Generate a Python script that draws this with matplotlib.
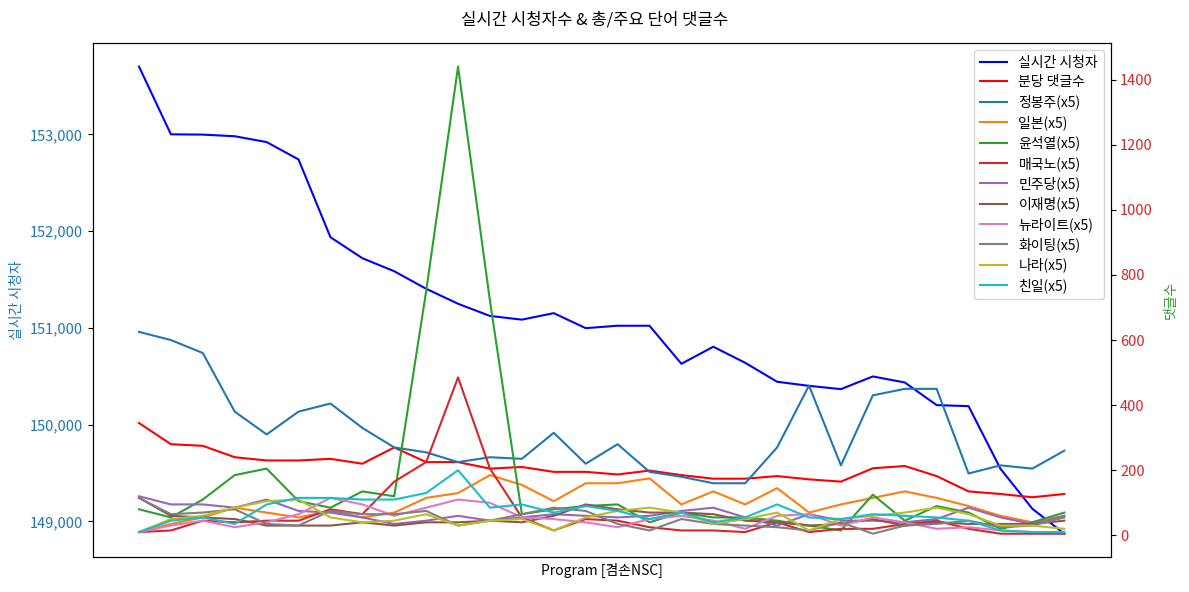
import matplotlib
matplotlib.use('Agg')
import matplotlib.pyplot as plt

plt.rcParams['font.family'] = ['Noto Sans CJK KR', 'DejaVu Sans']

# 실시간 시청자 (왼쪽 축)
viewers = [153700, 153000, 152997, 152980, 152920, 152740, 151937, 151720, 151585, 151404,
           151249, 151123, 151085, 151152, 150997, 151022, 151022, 150629, 150805, 150639,
           150443, 150401, 150367, 150498, 150436, 150202, 150191, 149544, 149131, 148873]

# 분당 댓글수 (오른쪽 축)
comments_per_min = [345, 280, 275, 240, 230, 230, 235, 220, 270, 225,
                    225, 205, 210, 195, 195, 187, 199, 185, 174, 174,
                    182, 172, 165, 206, 213, 182, 135, 127, 117, 127]

# 주요 단어 (x5)
word_names = ['정봉주', '일본', '윤석열', '매국노', '민주당', '이재명', '뉴라이트', '화이팅', '나라', '친일']
word_counts = [
    [625, 600, 560, 380, 310, 380, 405, 330, 270, 255, 225, 240, 235, 315, 220,
     280, 195, 180, 160, 160, 270, 460, 215, 430, 450, 450, 190, 215, 205, 260],
    [10, 35, 55, 85, 70, 55, 75, 55, 70, 115, 130, 185, 155, 105, 160,
     160, 175, 95, 135, 95, 145, 70, 95, 115, 135, 115, 90, 60, 40, 60],
    [80, 55, 110, 185, 205, 105, 85, 135, 120, 750, 1440, 720, 65, 80, 90,
     95, 40, 70, 55, 55, 45, 30, 15, 125, 45, 90, 70, 20, 40, 70],
    [10, 15, 45, 40, 45, 45, 80, 65, 165, 225, 485, 205, 55, 15, 50,
     45, 25, 15, 15, 10, 40, 10, 20, 20, 35, 45, 20, 5, 5, 5],
    [120, 95, 95, 85, 110, 75, 70, 55, 35, 45, 60, 45, 55, 65, 60,
     55, 60, 75, 85, 55, 30, 65, 45, 45, 40, 50, 85, 55, 35, 60],
    [115, 60, 55, 50, 30, 30, 30, 40, 30, 40, 40, 45, 40, 60, 95,
     80, 70, 70, 65, 45, 40, 30, 35, 50, 30, 40, 35, 35, 35, 45],
    [10, 30, 45, 25, 40, 65, 115, 95, 60, 85, 110, 100, 55, 50, 40,
     25, 50, 60, 45, 20, 60, 65, 30, 55, 40, 20, 25, 15, 10, 10],
    [115, 65, 70, 80, 35, 30, 75, 65, 65, 75, 30, 45, 65, 85, 75,
     35, 15, 50, 35, 30, 25, 15, 40, 5, 30, 35, 45, 25, 30, 55],
    [10, 50, 60, 85, 105, 110, 55, 40, 45, 65, 30, 45, 50, 15, 55,
     75, 85, 70, 35, 50, 70, 15, 50, 60, 70, 85, 65, 30, 30, 20],
    [10, 45, 55, 35, 95, 115, 115, 110, 110, 130, 200, 85, 95, 70, 90,
     75, 50, 70, 40, 55, 95, 55, 50, 65, 60, 55, 45, 15, 10, 10],
]
word_colors = ['tab:blue', 'tab:orange', 'tab:green', 'tab:red', 'tab:purple',
               'tab:brown', 'tab:pink', 'tab:gray', 'tab:olive', 'tab:cyan']

x = list(range(len(viewers)))

fig, ax1 = plt.subplots(figsize=(11.89, 5.92), dpi=100)
l1, = ax1.plot(x, viewers, color='blue', label='실시간 시청자')
ax1.set_ylabel('실시간 시청자', color='tab:blue')
ax1.tick_params(axis='y', labelcolor='tab:blue', labelsize=10.5)
ax1.yaxis.set_major_formatter(matplotlib.ticker.StrMethodFormatter('{x:,.0f}'))
ax1.set_xlabel('Program [겸손NSC]')
ax1.set_xticks([])

ax2 = ax1.twinx()
lines = [l1]
l2, = ax2.plot(x, comments_per_min, color='red', label='분당 댓글수')
lines.append(l2)
for name, vals, c in zip(word_names, word_counts, word_colors):
    ln, = ax2.plot(x, vals, color=c, label=f'{name}(x5)')
    lines.append(ln)
ax2.set_ylabel('댓글수', color='tab:green', labelpad=8)
ax2.tick_params(axis='y', labelcolor='tab:red', labelsize=10.5)

ax2.legend(lines, [l.get_label() for l in lines], loc='upper right',
           labelspacing=0.4)

fig.suptitle('실시간 시청자수 & 총/주요 단어 댓글수', fontsize=12)
plt.subplots_adjust(left=0.078, right=0.934, top=0.927, bottom=0.059)
plt.savefig('out.png')
